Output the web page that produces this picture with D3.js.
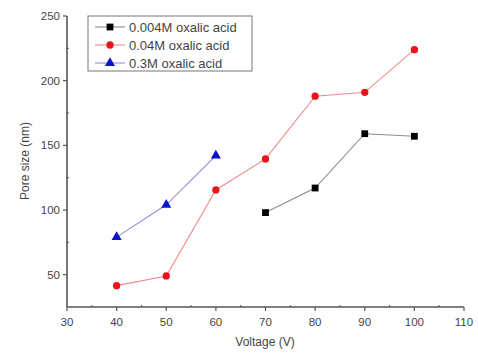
<!DOCTYPE html>
<html>
<head>
<meta charset="utf-8">
<script src="https://cdn.jsdelivr.net/npm/d3@7"></script>
<style>
  body { margin: 0; background: #fff; }
  text { font-family: "Liberation Sans", Arial, sans-serif; fill: #444; }
</style>
</head>
<body>
<svg id="chart" width="478" height="354"></svg>
<script>
// data
const seriesNames = ["0.004M oxalic acid", "0.04M oxalic acid", "0.3M oxalic acid"];
const voltLow = [70, 80, 90, 100];
const poreLow = [98, 117, 159, 157];
const voltMid = [40, 50, 60, 70, 80, 90, 100];
const poreMid = [41.5, 49, 115.5, 139.5, 188, 191, 224];
const voltHigh = [40, 50, 60];
const poreHigh = [79, 104, 142];
const xTicks = [30, 40, 50, 60, 70, 80, 90, 100, 110];
const yTicks = [50, 100, 150, 200, 250];

const series = [
  { name: seriesNames[0], xs: voltLow, ys: poreLow, line: "#8c8c8c", fill: "#000", shape: d3.symbolSquare, size: 46 },
  { name: seriesNames[1], xs: voltMid, ys: poreMid, line: "#f08a8a", fill: "#e8141b", shape: d3.symbolCircle, size: 42 },
  { name: seriesNames[2], xs: voltHigh, ys: poreHigh, line: "#8f8fe0", fill: "#0a14c8", shape: d3.symbolTriangle, size: 44 }
];

const svg = d3.select("#chart");
const x = d3.scaleLinear().domain([30, 110]).range([67, 464]);
const y = d3.scaleLinear().domain([25, 250]).range([307, 16]);

const axisColor = "#555";

// x axis
const gx = svg.append("g").attr("transform", "translate(0,307)");
gx.append("line").attr("x1", 67).attr("x2", 464).attr("stroke", axisColor).attr("stroke-width", 1.6);
gx.selectAll(".maj").data(xTicks).enter().append("line")
  .attr("x1", d => x(d)).attr("x2", d => x(d)).attr("y1", 0).attr("y2", 4)
  .attr("stroke", axisColor).attr("stroke-width", 1.2);
gx.selectAll(".min").data(d3.range(35, 110, 10)).enter().append("line")
  .attr("x1", d => x(d)).attr("x2", d => x(d)).attr("y1", -2).attr("y2", 0)
  .attr("stroke", axisColor).attr("stroke-width", 1);
gx.selectAll("text").data(xTicks).enter().append("text")
  .attr("x", d => x(d)).attr("y", 19).attr("text-anchor", "middle")
  .style("font-size", "11.5px").text(d => d);

// y axis
const gy = svg.append("g").attr("transform", "translate(67,0)");
gy.append("line").attr("y1", 16).attr("y2", 307).attr("stroke", axisColor).attr("stroke-width", 1.6);
gy.selectAll(".maj").data(yTicks).enter().append("line")
  .attr("y1", d => y(d)).attr("y2", d => y(d)).attr("x1", -4).attr("x2", 0)
  .attr("stroke", axisColor).attr("stroke-width", 1.2);
gy.selectAll(".min").data(d3.range(75, 250, 50)).enter().append("line")
  .attr("y1", d => y(d)).attr("y2", d => y(d)).attr("x1", 0).attr("x2", 2)
  .attr("stroke", axisColor).attr("stroke-width", 1);
gy.selectAll("text").data(yTicks).enter().append("text")
  .attr("x", -7).attr("y", d => y(d)).attr("dy", "0.35em").attr("text-anchor", "end")
  .style("font-size", "11.5px").text(d => d);

// axis titles
svg.append("text").attr("x", 265).attr("y", 346).attr("text-anchor", "middle")
  .style("font-size", "12px").text("Voltage (V)");
svg.append("text").attr("transform", "translate(29,161) rotate(-90)").attr("text-anchor", "middle")
  .style("font-size", "12px").text("Pore size (nm)");

// series
const line = d3.line().x(d => x(d[0])).y(d => y(d[1]));
series.forEach(s => {
  const pts = s.xs.map((v, i) => [v, s.ys[i]]);
  svg.append("path").attr("d", line(pts)).attr("fill", "none")
    .attr("stroke", s.line).attr("stroke-width", 1.1);
  svg.selectAll(null).data(pts).enter().append("path")
    .attr("transform", d => `translate(${x(d[0])},${y(d[1])})`)
    .attr("d", d3.symbol().type(s.shape).size(s.size))
    .attr("fill", s.fill);
});

// legend
const lg = svg.append("g");
lg.append("rect").attr("x", 88).attr("y", 16).attr("width", 164).attr("height", 55)
  .attr("fill", "#fff").attr("stroke", "#777").attr("stroke-width", 1);
series.forEach((s, i) => {
  const ly = 27 + i * 18;
  lg.append("line").attr("x1", 95).attr("x2", 125).attr("y1", ly).attr("y2", ly)
    .attr("stroke", s.line).attr("stroke-width", 1.1);
  lg.append("path").attr("transform", `translate(110,${ly})`)
    .attr("d", d3.symbol().type(s.shape).size(s.size)).attr("fill", s.fill);
  lg.append("text").attr("x", 129).attr("y", ly).attr("dy", "0.36em")
    .style("font-size", "13px").text(s.name);
});
</script>
</body>
</html>
